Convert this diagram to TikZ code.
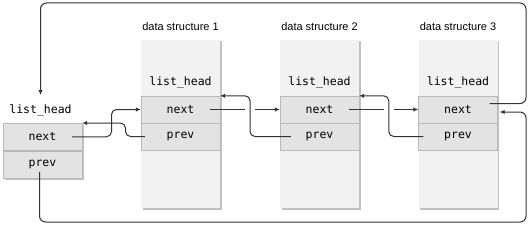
\documentclass[tikz,border=0pt]{standalone}
\usepackage{fontspec}
\setmainfont{Liberation Sans}
\setmonofont{DejaVu Sans Mono}
\usetikzlibrary{positioning,arrows.meta,calc,shadows}

\begin{document}
\begin{tikzpicture}[x=1pt, y=-1pt,
  shad/.style={drop shadow={shadow xshift=1.5pt, shadow yshift=-1.5pt, fill=gray!60, opacity=0.8}},
  dsbox/.style={shad, fill=gray!10, minimum width=79pt, minimum height=168pt, inner sep=0pt},
  field/.style={draw=gray!55, fill=gray!22, minimum width=79pt, minimum height=27pt, inner sep=0pt, font=\ttfamily\fontsize{11.5}{13}\selectfont},
  lbl/.style={inner sep=1pt, font=\ttfamily\fontsize{11.5}{13}\selectfont},
  dstitle/.style={inner sep=1pt, font=\fontsize{11}{13}\selectfont},
  wire/.style={draw=black!80, line width=1pt, rounded corners=5pt},
  arr/.style={wire, -{Latex[length=5pt,width=4.5pt]}}
]
\useasboundingbox (0,0) rectangle (529,227);
% the list head on its own
\node[field, shad, minimum height=55pt] (hb) at (42.5,150.5) {};
\node[field] (hn) at (42.5,136.75) {next};
\node[field] (hp) at (42.5,164.25) {prev};
\node[lbl] (hl) at (40.5,110) {list\_head};
% the three data structures
\foreach \i/\x in {1/180.5, 2/319.5, 3/458} {
  \node[dsbox] (ds\i) at (\x,124) {};
  \node[dstitle] (tt\i) at (\x,27) {data structure \i};
  \node[lbl] (lh\i) at (\x,82) {list\_head};
  \node[field] (nx\i) at (\x,109.5) {next};
  \node[field] (pv\i) at (\x,136.5) {prev};
}
% crossing points
\coordinate (m0) at ($(hn.east)!0.5!(nx1.west)$);
\coordinate (m1) at ($(m0)+(14,0)$);
\coordinate (c12) at ($(nx1.north east)!0.5!(nx2.north west)$);
\coordinate (c23) at ($(nx2.north east)!0.5!(nx3.north west)$);
\coordinate (g12) at (c12 |- nx1.east);
\coordinate (g23) at (c23 |- nx2.east);
\coordinate (tr) at (526,3);
\coordinate (br) at (526,222);
% head <-> structure 1
\draw[arr] ([xshift=-10pt]hn.east) -| (m0 |- nx1.west) -- (nx1.west);
\draw[arr] ([xshift=4pt]pv1.west) -| (m1 |- hn.north east) -- (hn.north east);
% structure 1 <-> 2 <-> 3
\draw[wire] ([xshift=-10pt]nx1.east) -- ($(g12)+(-5,0)$);
\draw[arr] ($(g12)+(5,0)$) -- (nx2.west);
\draw[arr] ([xshift=11pt]pv2.west) -| (c12) -- (nx1.north east);
\draw[wire] ([xshift=-10pt]nx2.east) -- ($(g23)+(-5,0)$);
\draw[arr] ($(g23)+(5,0)$) -- (nx3.west);
\draw[arr] ([xshift=5pt]pv3.west) -| (c23) -- (nx2.north east);
% round the outside
\draw[arr, rounded corners=6pt] ([xshift=-8pt,yshift=6pt]nx3.east) -| (tr) -| ([yshift=8pt]hl.north);
\draw[arr, rounded corners=6pt] ([xshift=-3pt,yshift=6pt]hp.south) |- (br) |- ([xshift=2pt,yshift=-2.5pt]nx3.east);
\end{tikzpicture}
\end{document}
